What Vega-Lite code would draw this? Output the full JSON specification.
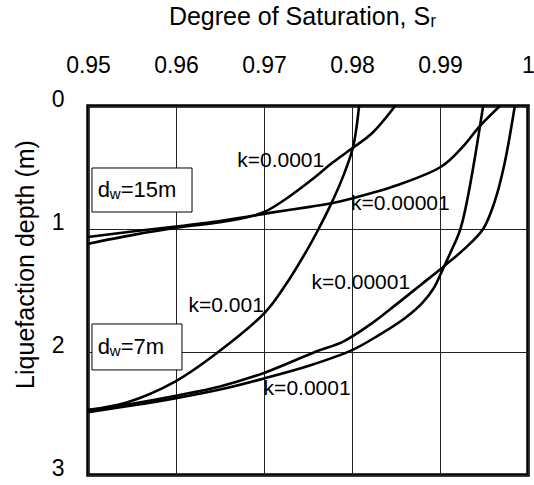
{
  "$schema": "https://vega.github.io/schema/vega-lite/v6.json",
  "width": 440,
  "height": 369,
  "autosize": {"type": "none"},
  "padding": {"left": 88, "top": 106, "right": 6, "bottom": 10},
  "background": "white",
  "config": {
    "font": "Liberation Sans",
    "view": {"stroke": "black", "strokeWidth": 3.5},
    "axis": {
      "grid": true, "gridColor": "#222222", "gridWidth": 1, "gridOpacity": 1,
      "domain": false, "ticks": false, "tickSize": 0,
      "labelFont": "Liberation Sans", "labelFontSize": 23, "labelColor": "black",
      "titleFont": "Liberation Sans", "titleFontSize": 25, "titleFontWeight": "normal", "titleColor": "black"
    }
  },
  "datasets": {
    "curves": [
      {"series": "k001", "x": 0.9500, "y": 2.47},
      {"series": "k001", "x": 0.9544, "y": 2.41},
      {"series": "k001", "x": 0.9599, "y": 2.24},
      {"series": "k001", "x": 0.9648, "y": 2.00},
      {"series": "k001", "x": 0.9701, "y": 1.68},
      {"series": "k001", "x": 0.9724, "y": 1.46},
      {"series": "k001", "x": 0.9749, "y": 1.17},
      {"series": "k001", "x": 0.9762, "y": 1.00},
      {"series": "k001", "x": 0.9776, "y": 0.80},
      {"series": "k001", "x": 0.9790, "y": 0.57},
      {"series": "k001", "x": 0.9801, "y": 0.34},
      {"series": "k001", "x": 0.9805, "y": 0.18},
      {"series": "k001", "x": 0.9808, "y": 0.00},

      {"series": "d15k4", "x": 0.9500, "y": 1.12},
      {"series": "d15k4", "x": 0.9550, "y": 1.05},
      {"series": "d15k4", "x": 0.9600, "y": 0.99},
      {"series": "d15k4", "x": 0.9650, "y": 0.945},
      {"series": "d15k4", "x": 0.9681, "y": 0.905},
      {"series": "d15k4", "x": 0.9701, "y": 0.86},
      {"series": "d15k4", "x": 0.9726, "y": 0.75},
      {"series": "d15k4", "x": 0.9756, "y": 0.59},
      {"series": "d15k4", "x": 0.9778, "y": 0.46},
      {"series": "d15k4", "x": 0.9801, "y": 0.34},
      {"series": "d15k4", "x": 0.9823, "y": 0.22},
      {"series": "d15k4", "x": 0.9849, "y": 0.00},

      {"series": "d15k5", "x": 0.9500, "y": 1.065},
      {"series": "d15k5", "x": 0.9550, "y": 1.02},
      {"series": "d15k5", "x": 0.9600, "y": 0.98},
      {"series": "d15k5", "x": 0.9650, "y": 0.935},
      {"series": "d15k5", "x": 0.9681, "y": 0.90},
      {"series": "d15k5", "x": 0.9710, "y": 0.865},
      {"series": "d15k5", "x": 0.9752, "y": 0.82},
      {"series": "d15k5", "x": 0.9777, "y": 0.79},
      {"series": "d15k5", "x": 0.9801, "y": 0.75},
      {"series": "d15k5", "x": 0.9851, "y": 0.645},
      {"series": "d15k5", "x": 0.9902, "y": 0.49},
      {"series": "d15k5", "x": 0.9926, "y": 0.33},
      {"series": "d15k5", "x": 0.9945, "y": 0.165},
      {"series": "d15k5", "x": 0.9968, "y": 0.00},

      {"series": "d7k5", "x": 0.9500, "y": 2.475},
      {"series": "d7k5", "x": 0.9550, "y": 2.42},
      {"series": "d7k5", "x": 0.9600, "y": 2.355},
      {"series": "d7k5", "x": 0.9650, "y": 2.28},
      {"series": "d7k5", "x": 0.9700, "y": 2.17},
      {"series": "d7k5", "x": 0.9758, "y": 2.00},
      {"series": "d7k5", "x": 0.9790, "y": 1.915},
      {"series": "d7k5", "x": 0.9820, "y": 1.78},
      {"series": "d7k5", "x": 0.9850, "y": 1.615},
      {"series": "d7k5", "x": 0.9878, "y": 1.455},
      {"series": "d7k5", "x": 0.9905, "y": 1.30},
      {"series": "d7k5", "x": 0.9928, "y": 1.16},
      {"series": "d7k5", "x": 0.9949, "y": 1.00},
      {"series": "d7k5", "x": 0.9962, "y": 0.78},
      {"series": "d7k5", "x": 0.9973, "y": 0.48},
      {"series": "d7k5", "x": 0.9985, "y": 0.00},

      {"series": "d7k4", "x": 0.9500, "y": 2.49},
      {"series": "d7k4", "x": 0.9550, "y": 2.435},
      {"series": "d7k4", "x": 0.9600, "y": 2.375},
      {"series": "d7k4", "x": 0.9650, "y": 2.305},
      {"series": "d7k4", "x": 0.9700, "y": 2.215},
      {"series": "d7k4", "x": 0.9752, "y": 2.11},
      {"series": "d7k4", "x": 0.9800, "y": 1.985},
      {"series": "d7k4", "x": 0.9830, "y": 1.865},
      {"series": "d7k4", "x": 0.9860, "y": 1.725},
      {"series": "d7k4", "x": 0.9880, "y": 1.60},
      {"series": "d7k4", "x": 0.9893, "y": 1.48},
      {"series": "d7k4", "x": 0.9903, "y": 1.33},
      {"series": "d7k4", "x": 0.9912, "y": 1.19},
      {"series": "d7k4", "x": 0.9924, "y": 0.98},
      {"series": "d7k4", "x": 0.9949, "y": 0.00}
    ],
    "labels": [
      {"x": 0.9719, "y": 0.45, "text": "k=0.0001"},
      {"x": 0.9855, "y": 0.80, "text": "k=0.00001"},
      {"x": 0.9657, "y": 1.63, "text": "k=0.001"},
      {"x": 0.9810, "y": 1.44, "text": "k=0.00001"},
      {"x": 0.9749, "y": 2.30, "text": "k=0.0001"}
    ],
    "boxes": [
      {"x": 0.95045, "x2": 0.96182, "y": 0.504, "y2": 0.862},
      {"x": 0.95045, "x2": 0.96068, "y": 1.772, "y2": 2.146}
    ],
    "boxtext": [
      {"x": 0.9511, "y": 0.683, "rest": "=15m"},
      {"x": 0.9511, "y": 1.96, "rest": "=7m"}
    ]
  },
  "encoding": {
    "x": {
      "field": "x", "type": "quantitative",
      "scale": {"domain": [0.95, 1], "nice": false, "zero": false},
      "axis": {
        "orient": "top",
        "values": [0.95, 0.96, 0.97, 0.98, 0.99, 1],
        "labelExpr": "datum.value >= 0.9999 ? '1' : format(datum.value, '.2f')",
        "labelFlush": false,
        "labelOverlap": false,
        "labelPadding": 29,
        "title": "Degree of Saturation, Sᵣ",
        "titleX": 214,
        "titleY": -90,
        "titleBaseline": "middle"
      }
    },
    "y": {
      "field": "y", "type": "quantitative",
      "scale": {"domain": [0, 3], "reverse": true, "nice": false, "zero": false},
      "axis": {
        "values": [0, 1, 2, 3],
        "format": "d",
        "labelPadding": 24,
        "labelOffset": -7,
        "title": "Liquefaction depth (m)",
        "titleX": -63,
        "titleY": 158,
        "titleBaseline": "middle"
      }
    }
  },
  "layer": [
    {
      "data": {"name": "curves"},
      "mark": {"type": "line", "interpolate": "catmull-rom", "stroke": "black", "strokeWidth": 2.6, "clip": true},
      "encoding": {"detail": {"field": "series"}}
    },
    {
      "data": {"name": "boxes"},
      "mark": {"type": "rect", "fill": "white", "stroke": "black", "strokeWidth": 1},
      "encoding": {"x2": {"field": "x2"}, "y2": {"field": "y2"}}
    },
    {
      "data": {"name": "boxtext"},
      "mark": {"type": "text", "text": "d", "fontSize": 22, "align": "left", "baseline": "middle", "color": "black"}
    },
    {
      "data": {"name": "boxtext"},
      "mark": {"type": "text", "text": "w", "fontSize": 15, "align": "left", "baseline": "middle", "dx": 12, "dy": 4, "color": "black"}
    },
    {
      "data": {"name": "boxtext"},
      "mark": {"type": "text", "fontSize": 22, "align": "left", "baseline": "middle", "dx": 23, "color": "black"},
      "encoding": {"text": {"field": "rest"}}
    },
    {
      "data": {"name": "labels"},
      "mark": {"type": "text", "fontSize": 21, "align": "center", "baseline": "middle", "color": "black"},
      "encoding": {"text": {"field": "text"}}
    }
  ]
}
